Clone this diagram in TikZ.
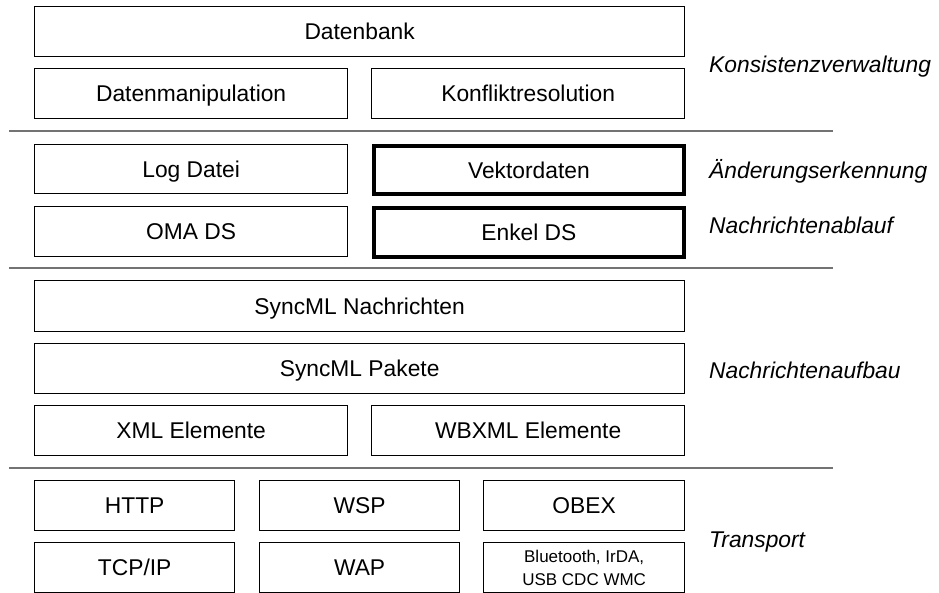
\documentclass[tikz,border=0pt]{standalone}
\usepackage{fontspec}
\setmainfont{Liberation Sans}
\begin{document}
\begin{tikzpicture}[x=1pt,y=-1pt,
  box/.style={draw=black, line width=1.3pt, fill=white, anchor=north west,
    inner sep=0pt, font=\fontsize{22.8}{27}\selectfont,
    text height=16.3pt, text depth=0pt},
  boldbox/.style={box, line width=3.8pt},
  layer/.style={anchor=base west, inner sep=0pt,
    font=\fontsize{22.8}{27}\selectfont\itshape},
  sepline/.style={draw=black!55, line width=1.6pt}]
\useasboundingbox (0,0) rectangle (939,592);

% Konsistenzverwaltung
\node[box, minimum width=650pt, minimum height=50pt] (db) at (34,6) {Datenbank};
\node[box, minimum width=313pt, minimum height=50pt] (dm) at (34,68) {Datenmanipulation};
\node[box, minimum width=313pt, minimum height=50pt] (kr) at (371,68) {Konfliktresolution};

\draw[sepline] (9,131) -- (833,131);

% Aenderungserkennung / Nachrichtenablauf
\node[box, minimum width=313pt, minimum height=49pt] (log) at (34,144) {Log Datei};
\node[boldbox, minimum width=310pt, minimum height=48pt] (vek) at (372,144) {Vektordaten};
\node[box, minimum width=313pt, minimum height=50pt] (oma) at (34,206) {OMA DS};
\node[boldbox, minimum width=310pt, minimum height=49pt] (enk) at (372,206) {Enkel DS};

\draw[sepline] (9,268) -- (833,268);

% Nachrichtenaufbau
\node[box, minimum width=650pt, minimum height=51pt] (snm) at (34,280) {SyncML Nachrichten};
\node[box, minimum width=650pt, minimum height=50pt] (spk) at (34,343) {SyncML Pakete};
\node[box, minimum width=313pt, minimum height=50pt] (xml) at (34,405) {XML Elemente};
\node[box, minimum width=313pt, minimum height=50pt] (wbx) at (371,405) {WBXML Elemente};

\draw[sepline] (9,468) -- (833,468);

% Transport
\node[box, minimum width=200pt, minimum height=50pt] (http) at (34,480) {HTTP};
\node[box, minimum width=200pt, minimum height=50pt] (wsp) at (259,480) {WSP};
\node[box, minimum width=201pt, minimum height=50pt] (obex) at (483,480) {OBEX};
\node[box, minimum width=200pt, minimum height=50pt] (tcp) at (34,542) {TCP/IP};
\node[box, minimum width=200pt, minimum height=50pt] (wap) at (259,542) {WAP};
\node[box, minimum width=201pt, minimum height=50pt, align=center,
  text height=, text depth=, font=\fontsize{17}{23}\selectfont] (bt) at (483,542)
  {Bluetooth, IrDA,\\USB CDC WMC};

% layer names
\node[layer] (l1) at (709,72) {Konsistenzverwaltung};
\node[layer] (l2) at (709,178) {Änderungserkennung};
\node[layer] (l3) at (709,233) {Nachrichtenablauf};
\node[layer] (l4) at (709,378) {Nachrichtenaufbau};
\node[layer] (l5) at (709,547) {Transport};
\end{tikzpicture}
\end{document}
